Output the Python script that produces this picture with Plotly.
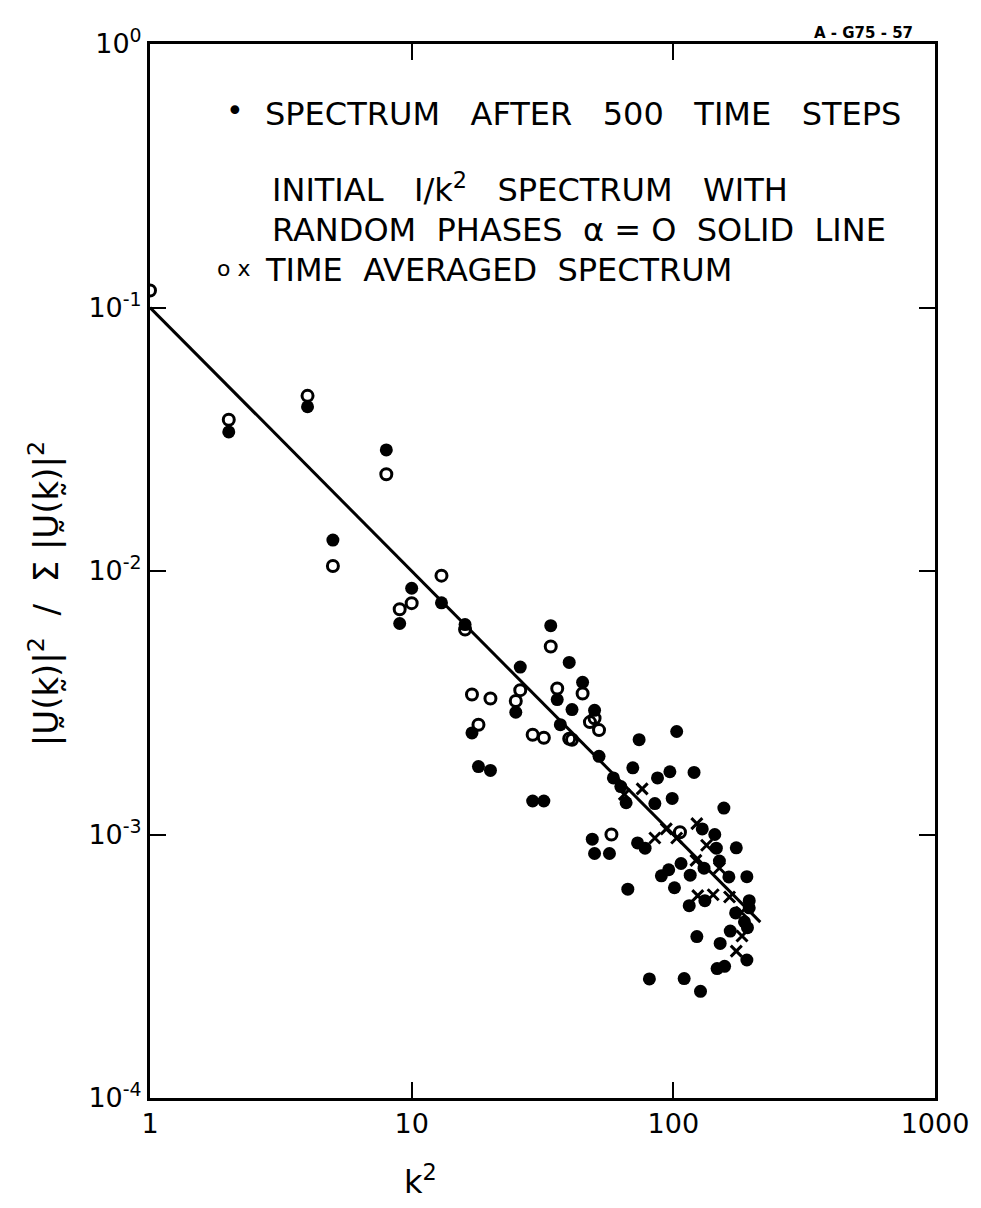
import plotly.graph_objects as go

# ---- data (k^2 , normalised energy) ----
filled_k2 = [2, 4, 5, 8, 9, 10, 13, 16, 17, 18, 20, 25, 26, 29, 32, 34, 36, 37, 40, 41,
             45, 49, 50, 50, 52, 57, 59, 63, 66, 67, 70, 73, 74, 78, 81, 85, 87, 90, 96, 97,
             99, 101, 103, 107, 110, 116, 115, 120, 123, 127, 129, 131, 132, 144, 146, 147,
             150, 151, 156, 157, 163, 165, 174, 173, 187, 191, 191, 192, 195, 195]
filled_val = [0.0337, 0.0420, 0.0131, 0.0288, 0.00632, 0.0086, 0.00757, 0.00626, 0.00243,
              0.00181, 0.00175, 0.00291, 0.00432, 0.00134, 0.00134, 0.00620, 0.00325,
              0.00261, 0.0045, 0.00298, 0.00378, 0.00096, 0.00296, 0.000847, 0.00198,
              0.000847, 0.00164, 0.00152, 0.00132, 0.00062, 0.00179, 0.000929, 0.00229,
              0.000887, 0.000283, 0.00131, 0.00164, 0.000697, 0.000735, 0.00173, 0.00137,
              0.000628, 0.00246, 0.000776, 0.000284, 0.000701, 0.000537, 0.00172, 0.00041,
              0.000254, 0.00105, 0.000745, 0.000561, 0.001, 0.000887, 0.00031, 0.000793,
              0.000386, 0.00126, 0.000316, 0.00069, 0.00043, 0.00089, 0.000504, 0.000466,
              0.000692, 0.000334, 0.000443, 0.000561, 0.000527]

open_k2 = [1, 2, 4, 5, 8, 9, 10, 13, 16, 17, 18, 20, 25, 26, 29, 32, 34, 36, 40, 41, 45,
           48, 50, 52, 58, 106]
open_val = [0.116, 0.0375, 0.0462, 0.01044, 0.0233, 0.00716, 0.00755, 0.0096, 0.0060,
            0.0034, 0.00261, 0.00328, 0.00321, 0.00353, 0.00239, 0.00233, 0.00517, 0.00358,
            0.00231, 0.00229, 0.00343, 0.00267, 0.00276, 0.00249, 0.001, 0.00102]

cross_k2 = [65, 76, 85, 94, 103, 123, 134, 122, 150, 124, 142, 164, 182, 183, 174]
cross_val = [0.00142, 0.00149, 0.00097, 0.00105, 0.00097, 0.0011, 0.00091, 0.000798,
             0.000746, 0.000586, 0.000591, 0.000579, 0.000507, 0.000412, 0.000361]

line_k2 = [1, 215]
line_val = [0.1, 0.000465]

x_tickvals = [1, 10, 100, 1000]
x_ticktext = ["1", "10", "100", "1000"]
y_tickvals = [1e-4, 1e-3, 1e-2, 1e-1, 1]
y_ticktext = ["10<sup>-4</sup>", "10<sup>-3</sup>", "10<sup>-2</sup>", "10<sup>-1</sup>", "10<sup>0</sup>"]

FONT = "DejaVu Sans"

fig = go.Figure()
fig.add_trace(go.Scatter(x=line_k2, y=line_val, mode="lines",
                         line=dict(color="black", width=3), showlegend=False))
fig.add_trace(go.Scatter(x=filled_k2, y=filled_val, mode="markers",
                         marker=dict(symbol="circle", size=13, color="black"),
                         showlegend=False))
fig.add_trace(go.Scatter(x=open_k2, y=open_val, mode="markers",
                         marker=dict(symbol="circle-open", size=11, color="black",
                                     line=dict(width=3)),
                         showlegend=False))
fig.add_trace(go.Scatter(x=cross_k2, y=cross_val, mode="markers",
                         marker=dict(symbol="x-thin-open", size=11, color="black",
                                     line=dict(width=3, color="black")),
                         showlegend=False))

axis_common = dict(type="log", showgrid=False, zeroline=False, showline=True,
                   linecolor="black", linewidth=3, mirror="ticks", ticks="inside",
                   ticklen=16, tickwidth=2, tickcolor="black",
                   tickfont=dict(family=FONT, size=27, color="black"))

fig.update_xaxes(range=[0, 3], tickvals=x_tickvals, ticktext=x_ticktext, **axis_common)
fig.update_yaxes(range=[-4, 0], tickvals=y_tickvals, ticktext=y_ticktext, **axis_common)

SP3 = "   "
SP2 = "  "
legend_lines = [
    (0.1445, 0.934, f"SPECTRUM{SP3}AFTER{SP3}500{SP3}TIME{SP3}STEPS"),
    (0.153, 0.863, f"INITIAL{SP3}I/k<sup>2</sup>{SP3}SPECTRUM{SP3}WITH"),
    (0.153, 0.824, f"RANDOM{SP2}PHASES{SP2}α = O{SP2}SOLID{SP2}LINE"),
    (0.1445, 0.786, f"TIME{SP2}AVERAGED{SP2}SPECTRUM"),
]
annotations = []
for x, y, t in legend_lines:
    annotations.append(dict(x=x, y=y, xref="paper", yref="paper", text=t,
                            showarrow=False, xanchor="left", yanchor="middle",
                            font=dict(family=FONT, size=32, color="black")))
annotations.append(dict(x=0.108, y=0.937, xref="paper", yref="paper", text="•",
                        showarrow=False, xanchor="center", yanchor="middle",
                        font=dict(family=FONT, size=30, color="black")))
annotations.append(dict(x=0.107, y=0.787, xref="paper", yref="paper", text="o x",
                        showarrow=False, xanchor="center", yanchor="middle",
                        font=dict(family=FONT, size=22, color="black")))
annotations.append(dict(x=0.974, y=1.0, xref="paper", yref="paper", text="<b>A - G75 - 57</b>",
                        showarrow=False, xanchor="right", yanchor="bottom",
                        font=dict(family=FONT, size=15, color="black")))
annotations.append(dict(x=-0.135, y=0.478, xref="paper", yref="paper",
                        text="|U\u0330(k\u0330)|<sup>2</sup>  /  Σ |U\u0330(k\u0330)|<sup>2</sup>",
                        textangle=-90, showarrow=False, xanchor="center", yanchor="middle",
                        font=dict(family=FONT, size=34, color="black")))
annotations.append(dict(x=0.345, y=-0.078, xref="paper", yref="paper",
                        text="k<sup>2</sup>", showarrow=False, xanchor="center",
                        yanchor="middle", font=dict(family=FONT, size=32, color="black")))

fig.update_layout(width=981, height=1208, paper_bgcolor="white", plot_bgcolor="white",
                  margin=dict(l=150, r=35, t=44, b=110), annotations=annotations,
                  font=dict(family=FONT, color="black"))

fig.write_html("out.html")
